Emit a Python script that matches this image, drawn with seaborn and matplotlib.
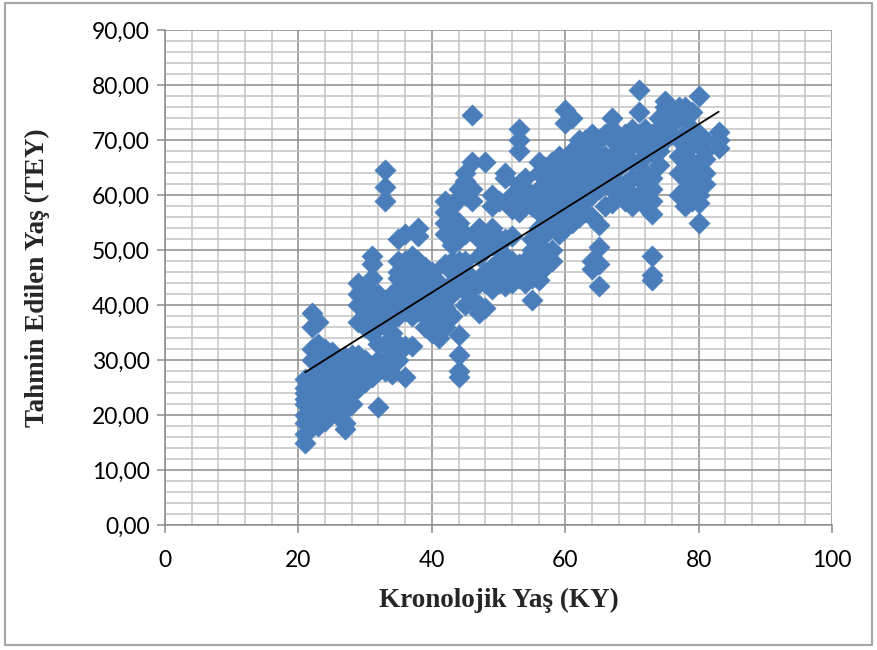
import numpy as np
import pandas as pd
import matplotlib
matplotlib.use("Agg")
import matplotlib.pyplot as plt
from matplotlib.ticker import MultipleLocator, FuncFormatter
from matplotlib.patches import Rectangle
import seaborn as sns

# Chronological age -> list of estimated ages
points = {
    21: [15, 16.5, 18.5, 20, 22, 23, 24, 25, 26.5],
    22: [19, 21, 23, 25, 27, 30, 32, 36, 38.5],
    23: [18, 20, 22, 24, 26, 28, 31, 33, 37],
    24: [19, 21, 23, 25, 27, 29, 32],
    25: [21, 22.5, 24, 26, 28, 30, 31.5],
    26: [20, 22, 24, 25.5, 27, 29, 30],
    27: [17.5, 18.5, 21, 23, 25, 27, 29, 30.5],
    28: [22, 24, 26, 28, 29.5, 31],
    29: [25, 27, 29, 31, 37, 40, 42, 44],
    30: [26, 28, 30, 36, 38, 40, 41, 43],
    31: [27, 29, 35, 38, 40, 42, 45, 47.5, 49],
    32: [21.5, 28, 30, 33, 36, 38.5, 40, 42],
    33: [28, 30, 33, 37, 39, 41, 59, 61.5, 64.5],
    34: [27.5, 29.5, 32, 35, 37.5, 40, 42],
    35: [30, 33, 38, 41, 43, 45, 46, 48, 52],
    36: [27, 32.5, 39, 42, 44, 46, 48, 53],
    37: [32.5, 38, 40, 43, 45, 47, 49],
    38: [39, 41, 44, 46, 48, 52.5, 54],
    39: [36, 38, 40, 42, 45, 47],
    40: [35, 37, 39, 41, 43.5, 46],
    41: [34, 36, 38, 40, 42, 44],
    42: [36, 39.5, 42, 47.5, 53, 55, 57, 59],
    43: [38, 42, 44, 46, 48, 51, 54, 56, 58],
    44: [27, 28, 31, 34.5, 45, 48, 52, 55, 59.5, 61],
    45: [40, 42.5, 46, 48, 53, 60, 62.5, 64],
    46: [41, 43, 45, 59, 61, 66, 74.5],
    47: [38.5, 40, 44, 49, 52, 54],
    48: [39.5, 44, 46, 50, 53, 66],
    49: [43, 45, 47, 51, 54, 58, 60],
    50: [44, 46, 48, 50, 52, 59],
    51: [43.5, 45, 47, 49, 52, 63, 64],
    52: [44, 46, 48, 52.5, 57.5, 60],
    53: [45, 47.5, 57, 60, 62, 68, 70, 72],
    54: [44, 46, 48, 59, 61, 63],
    55: [41, 45, 47, 50, 52, 58, 60],
    56: [44.5, 48, 51, 54, 57, 61, 64, 66],
    57: [47, 49, 53, 56, 59, 62, 65],
    58: [48, 50, 55, 58, 60, 63, 66],
    59: [53, 55, 57, 60, 62, 64.5, 67],
    60: [54, 56, 58, 61, 63, 66, 73, 75.5],
    61: [55, 57, 59.5, 62, 65, 68, 74],
    62: [56, 58, 61, 64, 66, 69, 70],
    63: [57, 59, 62, 65, 67, 70],
    64: [46.5, 48, 56, 60, 63, 66, 68.5, 71],
    65: [43.5, 47.5, 50.5, 54.5, 61, 64, 67, 70],
    66: [58, 62, 65, 67, 71],
    67: [58.5, 61, 64, 67, 70, 72, 74],
    68: [60, 62, 65, 68, 70.5],
    69: [59, 62, 66, 68, 71],
    70: [58, 60, 63, 66, 69, 72],
    71: [60, 63, 66, 69, 71, 75, 79],
    72: [58, 61, 64, 67, 70, 72],
    73: [44.5, 45.5, 49, 56.5, 59, 61, 63, 68, 71],
    74: [65.5, 68, 70, 72, 74],
    75: [70, 72, 74, 76, 77],
    76: [71, 73, 75],
    77: [60, 64, 67, 70, 74, 76],
    78: [58, 61, 63, 66, 68, 71, 74, 76],
    79: [59, 62, 64, 66, 69, 72, 75],
    80: [55, 58.5, 60, 63, 66, 69, 71, 78],
    81: [62, 64, 66.5, 68, 70],
    83: [68.5, 70, 71.5],
}

ky = [x for x, ys in points.items() for _ in ys]
tey = [y for ys in points.values() for y in ys]
df = pd.DataFrame({"KY": ky, "TEY": tey})

sns.set_theme(style="white")
plt.rcParams["font.family"] = ["Lato", "DejaVu Sans"]

fig = plt.figure(figsize=(8.78, 6.5), dpi=100)
ax = fig.add_axes([0.188, 0.192, 0.7596, 0.762])

# outer chart border
fig.patches.append(Rectangle((0.006, 0.008), 0.987, 0.988, transform=fig.transFigure,
                             fill=False, edgecolor="#a6a6a6", linewidth=1.5))

sns.scatterplot(data=df, x="KY", y="TEY", marker="D", s=115, color="#4A7EBB",
                edgecolor="#4A7EBB", linewidth=0.5, ax=ax, zorder=3)
sns.regplot(data=df, x="KY", y="TEY", scatter=False, ci=None, ax=ax,
            line_kws={"color": "black", "linewidth": 1.3, "zorder": 4})

ax.set_xlim(0, 100)
ax.set_ylim(0, 90)
ax.xaxis.set_major_locator(MultipleLocator(20))
ax.xaxis.set_minor_locator(MultipleLocator(4))
ax.yaxis.set_major_locator(MultipleLocator(10))
ax.yaxis.set_minor_locator(MultipleLocator(2))
ax.yaxis.set_major_formatter(FuncFormatter(lambda v, p: f"{v:.2f}".replace(".", ",")))

ax.grid(which="major", color="#8c8c8c", linewidth=1.1)
ax.grid(which="minor", color="#c4c4c4", linewidth=1.1)
ax.set_axisbelow(True)
for side in ["top", "right"]:
    ax.spines[side].set_visible(False)
for side in ["left", "bottom"]:
    ax.spines[side].set_color("#8c8c8c")
    ax.spines[side].set_linewidth(1.1)

ax.tick_params(which="major", direction="out", length=6, width=1.1, color="#8c8c8c",
               labelsize=16.5, labelcolor="black", left=True, bottom=True)
ax.tick_params(axis="x", which="major", pad=12)
ax.tick_params(axis="y", which="major", pad=5)
ax.tick_params(which="minor", length=0)

ax.set_xlabel("Kronolojik Yaş (KY)", fontsize=19.5, fontweight="bold",
              family="Liberation Serif", labelpad=12)
ax.set_ylabel("Tahmin Edilen Yaş (TEY)", fontsize=19.5, fontweight="bold",
              family="Liberation Serif", labelpad=30)

fig.savefig("out.png", dpi=100)
